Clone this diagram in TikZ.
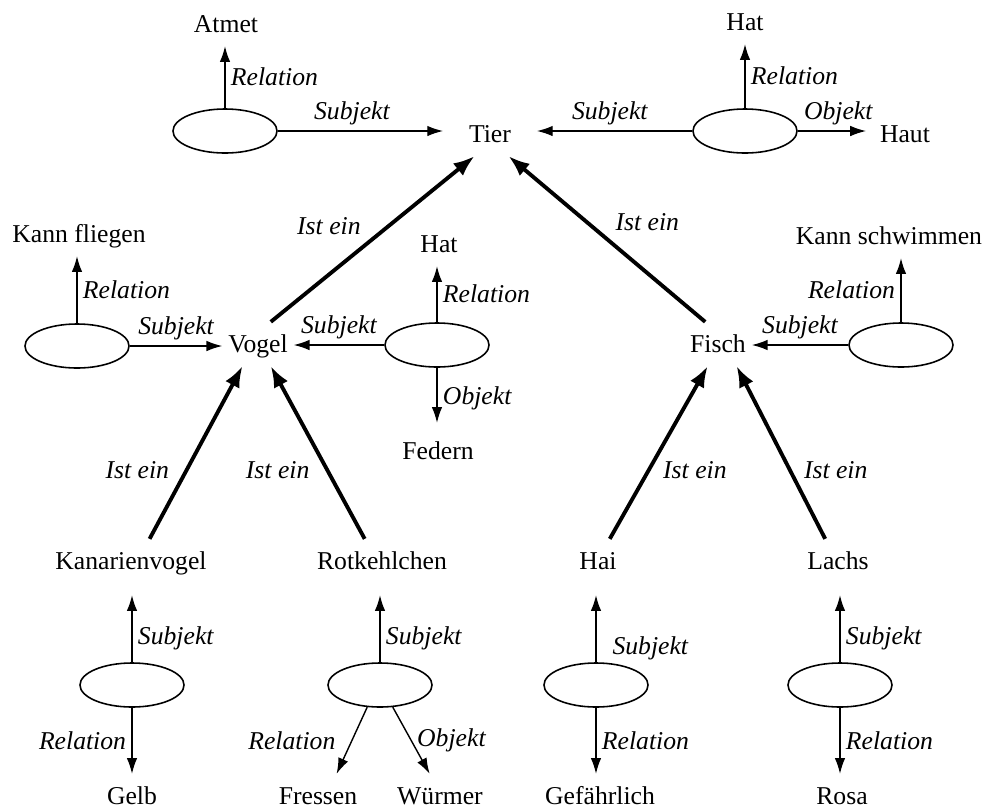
\documentclass[tikz,border=0pt]{standalone}
\usepackage{fontspec}
\setmainfont{Liberation Serif}
\usetikzlibrary{arrows.meta,shapes.geometric}
\newcommand{\diafont}{\fontsize{7.3}{8.8}\selectfont}
\tikzset{
  concept/.style={inner sep=1.5pt, text height=0.7em, text depth=0.22em},
  rel/.style={draw, ellipse, minimum width=1.04cm, minimum height=0.44cm, inner sep=0pt, line width=0.45pt},
  lab/.style={font=\diafont\itshape, inner sep=1.5pt},
  isa/.style={-{Latex[length=6pt,width=4.5pt]}, line width=1.1pt},
  link/.style={-{Latex[length=4.5pt,width=3pt]}, line width=0.4pt},
}
\begin{document}
\begin{tikzpicture}[x=0.01cm, y=-0.01cm, font=\diafont]
      \useasboundingbox (0,0) rectangle (999,808);
      \node[concept] (atmet) at (226,24) {Atmet};
      \node[rel] (eatmet) at (225,131) {};
      \node[concept] (tier) at (490,134) {Tier};
      \node[rel] (ehaut) at (745,131) {};
      \node[concept] (hat1) at (745,22) {Hat};
      \node[concept] (haut) at (905,134) {Haut};
      \node[concept] (fliegen) at (79,234) {Kann fliegen};
      \node[rel] (efliegen) at (77,346) {};
      \node[concept] (vogel) at (258,344) {Vogel};
      \node[concept] (hat2) at (439,244) {Hat};
      \node[rel] (efedern) at (437,345) {};
      \node[concept] (federn) at (438,451) {Federn};
      \node[concept] (fisch) at (718,344) {Fisch};
      \node[concept] (schwimmen) at (889,236) {Kann schwimmen};
      \node[rel] (eschwimmen) at (901,345) {};
      \node[concept] (kanarien) at (131,561) {Kanarienvogel};
      \node[concept] (rotk) at (382,561) {Rotkehlchen};
      \node[concept] (hai) at (598,561) {Hai};
      \node[concept] (lachs) at (838,561) {Lachs};
      \node[rel] (egelb) at (132,685) {};
      \node[rel] (ewuermer) at (380,685) {};
      \node[rel] (egefahr) at (596,685) {};
      \node[rel] (erosa) at (840,685) {};
      \node[concept] (gelb) at (132,796) {Gelb};
      \node[concept] (fressen) at (318,796) {Fressen};
      \node[concept] (wuermer) at (440,796) {Würmer};
      \node[concept] (gefahr) at (600,796) {Gefährlich};
      \node[concept] (rosa) at (842,796) {Rosa};
      \begin{scope}[isa]
        \draw (vogel.60) -- (tier.235) node[lab, left=6pt, pos=.58] {Ist ein};
        \draw (fisch.120) -- (tier.-50) node[lab, right=6pt, pos=.6] {Ist ein};
        \draw (kanarien.50) -- (vogel.235) node[lab, left=3pt, pos=.4] {Ist ein};
        \draw (rotk.128) -- (vogel.-60) node[lab, left=3pt, pos=.4] {Ist ein};
        \draw (hai.62) -- (fisch.245) node[lab, right=2pt, pos=.4] {Ist ein};
        \draw (lachs.120) -- (fisch.-50) node[lab, right=2pt, pos=.4] {Ist ein};
      \end{scope}
      \begin{scope}[link]
        \draw (eatmet.north) -- (eatmet.north |- atmet.south) node[lab, midway, right] {Relation};
        \draw[shorten >=0.2cm] (eatmet.east) -- (eatmet.east -| tier.west) node[lab, pos=.4, above] {Subjekt};
        \draw[shorten >=0.2cm] (ehaut.west) -- (ehaut.west -| tier.east) node[lab, pos=.47, above] {Subjekt};
        \draw (ehaut.north) -- (ehaut.north |- hat1.south) node[lab, midway, right] {Relation};
        \draw[shorten >=0.08cm] (ehaut.east) -- (ehaut.east -| haut.west) node[lab, pos=.53, above] {Objekt};
        \draw (efliegen.north) -- (efliegen.north |- fliegen.south) node[lab, midway, right] {Relation};
        \draw (efliegen.east) -- (efliegen.east -| vogel.west) node[lab, midway, above] {Subjekt};
        \draw (efedern.west) -- (efedern.west -| vogel.east) node[lab, midway, above] {Subjekt};
        \draw (efedern.north) -- (efedern.north |- hat2.south) node[lab, midway, right] {Relation};
        \draw[shorten >=0.06cm] (efedern.south) -- (efedern.south |- federn.north) node[lab, midway, right] {Objekt};
        \draw (eschwimmen.west) -- (eschwimmen.west -| fisch.east) node[lab, midway, above] {Subjekt};
        \draw (eschwimmen.north) -- (eschwimmen.north |- schwimmen.south) node[lab, midway, left] {Relation};
        \draw[shorten >=0.12cm] (egelb.north) -- (egelb.north |- kanarien.south) node[lab, pos=.3, right] {Subjekt};
        \draw[shorten >=0.12cm] (ewuermer.north) -- (ewuermer.north |- rotk.south) node[lab, pos=.3, right] {Subjekt};
        \draw[shorten >=0.12cm] (egefahr.north) -- (egefahr.north |- hai.south) node[lab, pos=.18, right=3pt] {Subjekt};
        \draw[shorten >=0.12cm] (erosa.north) -- (erosa.north |- lachs.south) node[lab, pos=.3, right] {Subjekt};
        \draw (egelb.south) -- (egelb.south |- gelb.north) node[lab, midway, left] {Relation};
        \draw (ewuermer.240) -- (fressen.50) node[lab, midway, left=3pt] {Relation};
        \draw (ewuermer.-60) -- (wuermer.115) node[lab, midway, right] {Objekt};
        \draw (egefahr.south) -- (egefahr.south |- gefahr.north) node[lab, midway, right] {Relation};
        \draw (erosa.south) -- (erosa.south |- rosa.north) node[lab, midway, right] {Relation};
      \end{scope}
    \end{tikzpicture}
\end{document}
